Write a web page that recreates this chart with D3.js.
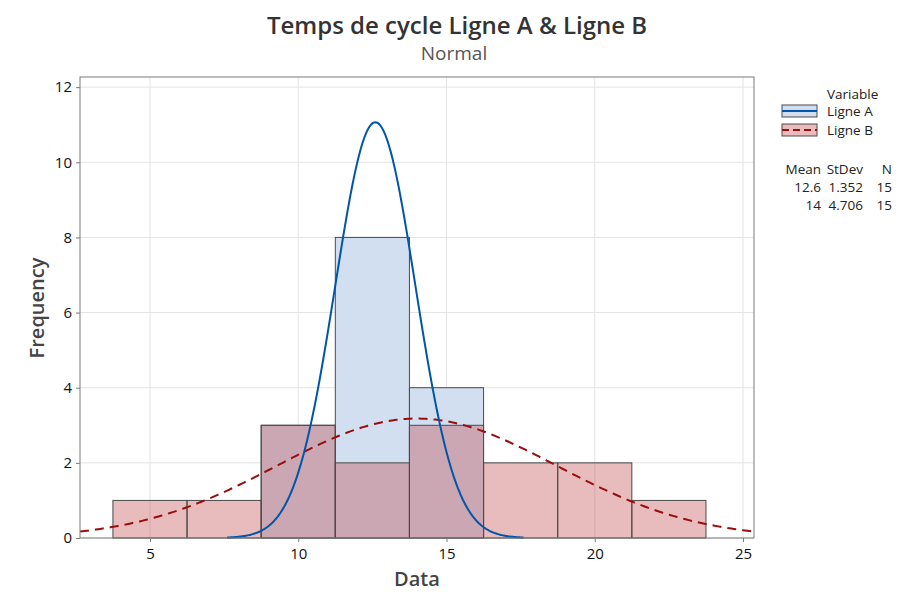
<!DOCTYPE html>
<html>
<head>
<meta charset="utf-8">
<script src="https://cdn.jsdelivr.net/npm/d3@7"></script>
<style>
body { margin: 0; background: #fff; }
svg text { font-family: "Open Sans", "Noto Sans", sans-serif; }
</style>
</head>
<body>
<div id="chart"></div>
<script>
// histogram bins (midpoints), width 2.5
var binMids = [5, 7.5, 10, 12.5, 15, 17.5, 20, 22.5];
var binWidth = 2.5;
var countsA = [0, 0, 3, 8, 4, 0, 0, 0];
var countsB = [1, 1, 3, 2, 3, 2, 2, 1];
var seriesNames = ['Ligne A', 'Ligne B'];
var means = [12.6, 14];
var stdevs = [1.352, 4.706];
var ns = [15, 15];
var curveRangeA = [7.6, 17.6];
var xTicks = [5, 10, 15, 20, 25];
var yTicks = [0, 2, 4, 6, 8, 10, 12];

var width = 919, height = 592;
var margin = {left: 80, right: 165, top: 77, bottom: 54};
var plotW = width - margin.left - margin.right;
var plotH = height - margin.top - margin.bottom;

var svg = d3.select('#chart').append('svg')
	.attr('width', width)
	.attr('height', height);

var x = d3.scaleLinear().domain([2.64, 25.37]).range([0, plotW]);
var y = d3.scaleLinear().domain([0, 12.27]).range([plotH, 0]);

var g = svg.append('g').attr('transform', 'translate(' + margin.left + ',' + margin.top + ')');

// gridlines
g.append('g').selectAll('line').data(xTicks).enter().append('line')
	.attr('x1', d => x(d)).attr('x2', d => x(d))
	.attr('y1', 0).attr('y2', plotH)
	.attr('stroke', '#e3e3e3');
g.append('g').selectAll('line').data(yTicks).enter().append('line')
	.attr('x1', 0).attr('x2', plotW)
	.attr('y1', d => y(d)).attr('y2', d => y(d))
	.attr('stroke', '#e3e3e3');

function drawBars(counts, fill, opacity) {
	var bins = binMids.map((m, i) => ({m: m, c: counts[i]})).filter(d => d.c > 0);
	g.append('g').selectAll('rect').data(bins).enter().append('rect')
		.attr('x', d => x(d.m - binWidth / 2))
		.attr('width', d => x(d.m + binWidth / 2) - x(d.m - binWidth / 2))
		.attr('y', d => y(d.c))
		.attr('height', d => y(0) - y(d.c))
		.attr('fill', fill)
		.attr('fill-opacity', opacity)
		.attr('stroke', '#4a4a4a')
		.attr('stroke-width', 1);
}
drawBars(countsA, '#d2dff0', 1);
drawBars(countsB, '#bd3f3f', 0.35);

// fitted normal curves
function normalPoints(mu, sd, n, lo, hi) {
	var pts = [];
	var steps = 300;
	for (var i = 0; i <= steps; i++) {
		var v = lo + (hi - lo) * i / steps;
		var f = n * binWidth / (sd * Math.sqrt(2 * Math.PI)) * Math.exp(-0.5 * Math.pow((v - mu) / sd, 2));
		pts.push([v, f]);
	}
	return pts;
}
var line = d3.line().x(d => x(d[0])).y(d => y(d[1]));

g.append('path')
	.datum(normalPoints(means[1], stdevs[1], ns[1], x.domain()[0], x.domain()[1]))
	.attr('d', line)
	.attr('fill', 'none')
	.attr('stroke', '#9b0d0d')
	.attr('stroke-width', 2)
	.attr('stroke-dasharray', '9,6');

g.append('path')
	.datum(normalPoints(means[0], stdevs[0], ns[0], curveRangeA[0], curveRangeA[1]))
	.attr('d', line)
	.attr('fill', 'none')
	.attr('stroke', '#0056a8')
	.attr('stroke-width', 2);

// frame
g.append('rect')
	.attr('width', plotW).attr('height', plotH)
	.attr('fill', 'none')
	.attr('stroke', '#7a7a7a');

// axes
var xAxis = g.append('g')
	.attr('transform', 'translate(0,' + plotH + ')')
	.call(d3.axisBottom(x).tickValues(xTicks).tickSize(4).tickPadding(6));
var yAxis = g.append('g')
	.call(d3.axisLeft(y).tickValues(yTicks).tickSize(4).tickPadding(4));
[xAxis, yAxis].forEach(function(a) {
	a.select('.domain').remove();
	a.selectAll('line').attr('stroke', '#7a7a7a');
	a.selectAll('text').attr('font-size', 15).attr('fill', '#111')
		.attr('font-family', '"Open Sans", sans-serif');
});

// titles
svg.append('text')
	.attr('x', 457).attr('y', 34)
	.attr('text-anchor', 'middle')
	.attr('font-size', 24).attr('font-weight', 600)
	.attr('fill', '#333')
	.text('Temps de cycle Ligne A & Ligne B');
svg.append('text')
	.attr('x', 454).attr('y', 60)
	.attr('text-anchor', 'middle')
	.attr('font-size', 19)
	.attr('fill', '#555')
	.text('Normal');

svg.append('text')
	.attr('x', 417).attr('y', 586)
	.attr('text-anchor', 'middle')
	.attr('font-size', 20).attr('font-weight', 600)
	.attr('fill', '#444')
	.text('Data');
svg.append('text')
	.attr('transform', 'translate(44,308) rotate(-90)')
	.attr('text-anchor', 'middle')
	.attr('font-size', 20).attr('font-weight', 600)
	.attr('fill', '#444')
	.text('Frequency');

// legend
var leg = svg.append('g');
leg.append('text')
	.attr('x', 827).attr('y', 99)
	.attr('font-size', 13.5)
	.attr('fill', '#222')
	.text('Variable');

var legStyles = [
	{fill: '#d2dff0', op: 1, stroke: '#0056a8', dash: null},
	{fill: '#bd3f3f', op: 0.35, stroke: '#9b0d0d', dash: '7,4'}
];
seriesNames.forEach(function(name, i) {
	var yy = 105 + i * 19;
	leg.append('rect')
		.attr('x', 782).attr('y', yy)
		.attr('width', 35).attr('height', 12)
		.attr('fill', legStyles[i].fill)
		.attr('fill-opacity', legStyles[i].op)
		.attr('stroke', '#4a4a4a');
	leg.append('line')
		.attr('x1', 782).attr('x2', 817)
		.attr('y1', yy + 6).attr('y2', yy + 6)
		.attr('stroke', legStyles[i].stroke)
		.attr('stroke-width', 2)
		.attr('stroke-dasharray', legStyles[i].dash);
	leg.append('text')
		.attr('x', 827).attr('y', yy + 11)
		.attr('font-size', 13.5)
		.attr('fill', '#222')
		.text(name);
});

var cols = [{h: 'Mean', x: 821}, {h: 'StDev', x: 863}, {h: 'N', x: 892}];
cols.forEach(function(c) {
	leg.append('text')
		.attr('x', c.x).attr('y', 174)
		.attr('text-anchor', 'end')
		.attr('font-size', 13.5)
		.attr('fill', '#222')
		.text(c.h);
});
seriesNames.forEach(function(name, i) {
	var yy = 192 + i * 18;
	var vals = [means[i], d3.format('.3f')(stdevs[i]), ns[i]];
	vals.forEach(function(v, j) {
		leg.append('text')
			.attr('x', cols[j].x).attr('y', yy)
			.attr('text-anchor', 'end')
			.attr('font-size', 13.5)
			.attr('fill', '#222')
			.text(v);
	});
});
</script>
</body>
</html>
